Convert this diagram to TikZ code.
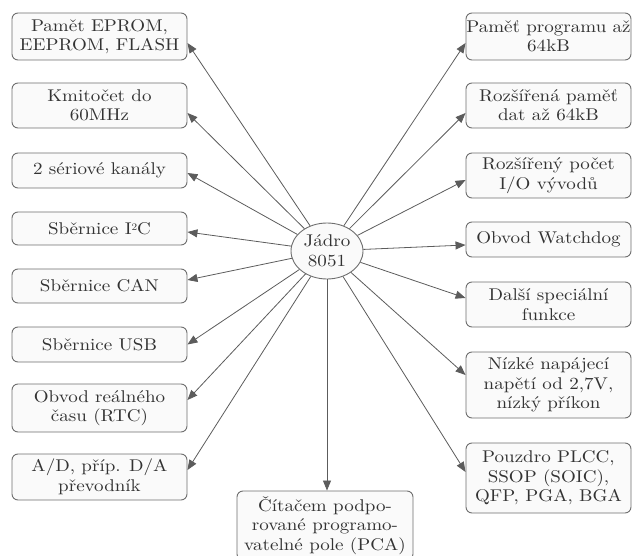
\documentclass[tikz,border=0pt]{standalone}
\usepackage{fontspec}
\setmainfont{lmroman10-regular.otf}[FakeStretch=1.12]
\usetikzlibrary{arrows.meta,shapes.geometric}
\definecolor{linec}{HTML}{5C5C5C}
\definecolor{boxc}{HTML}{6E6E6E}
\definecolor{boxf}{HTML}{FAFAFA}
\definecolor{txtc}{HTML}{333333}
\begin{document}
\begin{tikzpicture}[x=1pt,y=-1pt,
  box/.style={draw=boxc, fill=boxf, rounded corners=6pt, line width=0.9pt,
    align=center, inner sep=0pt, text=txtc, font=\fontsize{17}{19.5}\selectfont},
  lbox/.style={box, minimum width=175pt},
  rbox/.style={box, minimum width=165pt},
  conn/.style={draw=linec, line width=0.8pt, -{Triangle[length=10pt,width=8pt]}}
]
\useasboundingbox (0,0) rectangle (632,556);
\clip (0,0) rectangle (632,556);
% left column
\node[lbox, minimum height=47pt] (L1) at (99.5,36.5) {Pamět EPROM,\\EEPROM, FLASH};
\node[lbox, minimum height=45pt] (L2) at (99.5,105.5) {Kmitočet do\\60MHz};
\node[lbox, minimum height=35pt] (L3) at (99.5,170.5) {2 sériové kanály};
\node[lbox, minimum height=33pt] (L4) at (99.5,228.5) {Sběrnice I\raisebox{0.55ex}{\fontsize{10}{10}\selectfont 2}C};
\node[lbox, minimum height=34pt] (L5) at (99.5,286) {Sběrnice CAN};
\node[lbox, minimum height=35pt] (L6) at (99.5,344.5) {Sběrnice USB};
\node[lbox, minimum height=48pt] (L7) at (99.5,408) {Obvod reálného\\času (RTC)};
\node[lbox, minimum height=46pt] (L8) at (99.5,477) {A/D, příp. D/A\\převodník};
% right column
\node[rbox, minimum height=47pt] (R1) at (548.5,36.5) {Paměť programu až\\64kB};
\node[rbox, minimum height=45pt] (R2) at (548.5,105.5) {Rozšířená paměť\\dat až 64kB};
\node[rbox, minimum height=45pt] (R3) at (548.5,175.5) {Rozšířený počet\\I/O vývodů};
\node[rbox, minimum height=35pt] (R4) at (548.5,239.5) {Obvod Watchdog};
\node[rbox, minimum height=45pt] (R5) at (548.5,304.5) {Další speciální\\funkce};
\node[rbox, minimum height=66pt] (R6) at (548.5,385) {Nízké napájecí\\napětí od 2,7V,\\nízký příkon};
\node[rbox, minimum height=70pt] (R7) at (548.5,478) {Pouzdro PLCC,\\SSOP (SOIC),\\QFP, PGA, BGA};
% bottom
\node[box, minimum width=176pt, minimum height=69pt] (B) at (325,525.5) {Čítačem podpo-\\rované programo-\\vatelné pole (PCA)};
% centre
\node[ellipse, draw=boxc, fill=boxf, line width=0.9pt, minimum width=72pt, minimum height=56pt,
  inner sep=0pt, align=center, text=txtc, font=\fontsize{17}{19.5}\selectfont] (C) at (327,251) {Jádro\\8051};
% connectors
\draw[conn] (C) -- ([yshift=-6.5pt]L1.east);
\draw[conn] (C) -- ([yshift=-7.5pt]L2.east);
\draw[conn] (C) -- ([yshift=-2.5pt]L3.east);
\draw[conn] (C) -- ([yshift=-3.5pt]L4.east);
\draw[conn] (C) -- ([yshift=6pt]L5.east);
\draw[conn] (C) -- (L6.east);
\draw[conn] (C) -- ([yshift=8pt]L7.east);
\draw[conn] (C) -- ([yshift=7pt]L8.east);
\draw[conn] (C) -- ([yshift=-6.5pt]R1.west);
\draw[conn] (C) -- ([yshift=-7.5pt]R2.west);
\draw[conn] (C) -- ([yshift=-4.5pt]R3.west);
\draw[conn] (C) -- ([yshift=-5.5pt]R4.west);
\draw[conn] (C) -- ([yshift=6.5pt]R5.west);
\draw[conn] (C) -- ([yshift=10pt]R6.west);
\draw[conn] (C) -- ([yshift=6pt]R7.west);
\draw[conn] (C.south) -- (C.south |- B.north);
\end{tikzpicture}
\end{document}
